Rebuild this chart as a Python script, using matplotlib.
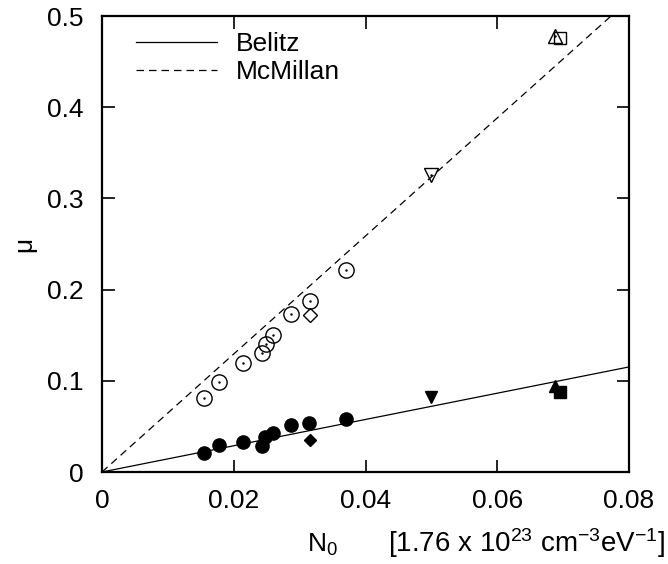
import matplotlib
matplotlib.use("Agg")
import matplotlib.pyplot as plt
import numpy as np

plt.rcParams['font.family'] = ['Liberation Sans', 'DejaVu Sans']
plt.rcParams['mathtext.fontset'] = 'custom'
plt.rcParams['mathtext.rm'] = 'Liberation Sans'
plt.rcParams['mathtext.it'] = 'Liberation Sans'

# McMillan (open) data
open_circ_x = [0.0155, 0.0178, 0.0214, 0.0243, 0.0249, 0.0259, 0.0287, 0.0315, 0.0371]
open_circ_y = [0.081, 0.099, 0.120, 0.130, 0.140, 0.150, 0.173, 0.188, 0.222]
open_diam_x = [0.0315]
open_diam_y = [0.172]
open_tdown_x = [0.0499]
open_tdown_y = [0.326]
open_tup_x = [0.0687]
open_tup_y = [0.478]
open_sq_x = [0.0695]
open_sq_y = [0.476]

# Belitz (filled) data
fill_circ_x = [0.0155, 0.0178, 0.0214, 0.0243, 0.0248, 0.0259, 0.0287, 0.0314, 0.0370]
fill_circ_y = [0.0205, 0.030, 0.033, 0.028, 0.038, 0.043, 0.052, 0.0535, 0.058]
fill_diam_x = [0.0315]
fill_diam_y = [0.035]
fill_tdown_x = [0.0499]
fill_tdown_y = [0.082]
fill_tup_x = [0.0687]
fill_tup_y = [0.094]
fill_sq_x = [0.0695]
fill_sq_y = [0.0876]

# Fit slopes
belitz_slope = 1.44
mcmillan_slope = 6.47
line_x = np.array([0.0, 0.08])

FS = 19
fig = plt.figure(figsize=(6.68, 5.64), dpi=100)
L, R, B, T = 102, 629, 472, 16
ax = fig.add_axes([L / 668, (564 - B) / 564, (R - L) / 668, (B - T) / 564])

ax.plot(line_x, belitz_slope * line_x, color='black', lw=0.9, label='Belitz')
ax.plot(line_x, mcmillan_slope * line_x, color='black', lw=0.9, ls=(0, (6, 4)), label='McMillan')

mk = dict(linestyle='none', color='black')
ax.plot(open_circ_x, open_circ_y, marker='o', ms=11, mfc='none', mew=1.0, **mk)
ax.plot(open_circ_x, open_circ_y, marker='.', ms=1.5, **mk)
ax.plot(open_diam_x, open_diam_y, marker='D', ms=7.5, mfc='none', mew=1.0, **mk)
ax.plot(open_tdown_x, open_tdown_y, marker='v', ms=10, mfc='none', mew=1.0, **mk)
ax.plot(open_tdown_x, open_tdown_y, marker='.', ms=1.5, **mk)
ax.plot(open_tup_x, open_tup_y, marker='^', ms=10, mfc='none', mew=1.0, **mk)
ax.plot(open_tup_x, open_tup_y, marker='.', ms=1.5, **mk)
ax.plot(open_sq_x, open_sq_y, marker='s', ms=9, mfc='none', mew=1.0, **mk)

ax.plot(fill_circ_x, fill_circ_y, marker='o', ms=9.5, **mk)
ax.plot(fill_diam_x, fill_diam_y, marker='D', ms=6.5, **mk)
ax.plot(fill_tdown_x, fill_tdown_y, marker='v', ms=9, **mk)
ax.plot(fill_tup_x, fill_tup_y, marker='^', ms=9, **mk)
ax.plot(fill_sq_x, fill_sq_y, marker='s', ms=8, **mk)

ax.set_xlim(0, 0.08)
ax.set_ylim(0, 0.5)
ax.set_xticks([0, 0.02, 0.04, 0.06, 0.08])
ax.set_xticklabels(['0', '0.02', '0.04', '0.06', '0.08'])
ax.set_yticks([0, 0.1, 0.2, 0.3, 0.4, 0.5])
ax.set_yticklabels(['0', '0.1', '0.2', '0.3', '0.4', '0.5'])
ax.tick_params(direction='in', length=9, width=1.2, top=True, right=True,
               labelsize=FS)
ax.tick_params(axis='x', pad=12)
ax.tick_params(axis='y', pad=13)
for s in ax.spines.values():
    s.set_linewidth(1.6)

ax.set_ylabel('μ', fontsize=FS, labelpad=8)
base_y = (564 - 552) / 564
fig.text(307 / 668, base_y, r'N$_0$', ha='left', va='baseline', fontsize=FS)
fig.text(665 / 668, base_y, r'[1.76 x 10$^{23}$ cm$^{-3}$eV$^{-1}$]',
         ha='right', va='baseline', fontsize=20)

ax.legend(loc='upper left', frameon=False, fontsize=FS, handlelength=3.07,
          handletextpad=0.72, labelspacing=0.15, borderaxespad=0.0, borderpad=0.0,
          bbox_to_anchor=((136 - L) / (R - L), (B - 32) / (B - T)))

fig.savefig('out.png', dpi=100)
